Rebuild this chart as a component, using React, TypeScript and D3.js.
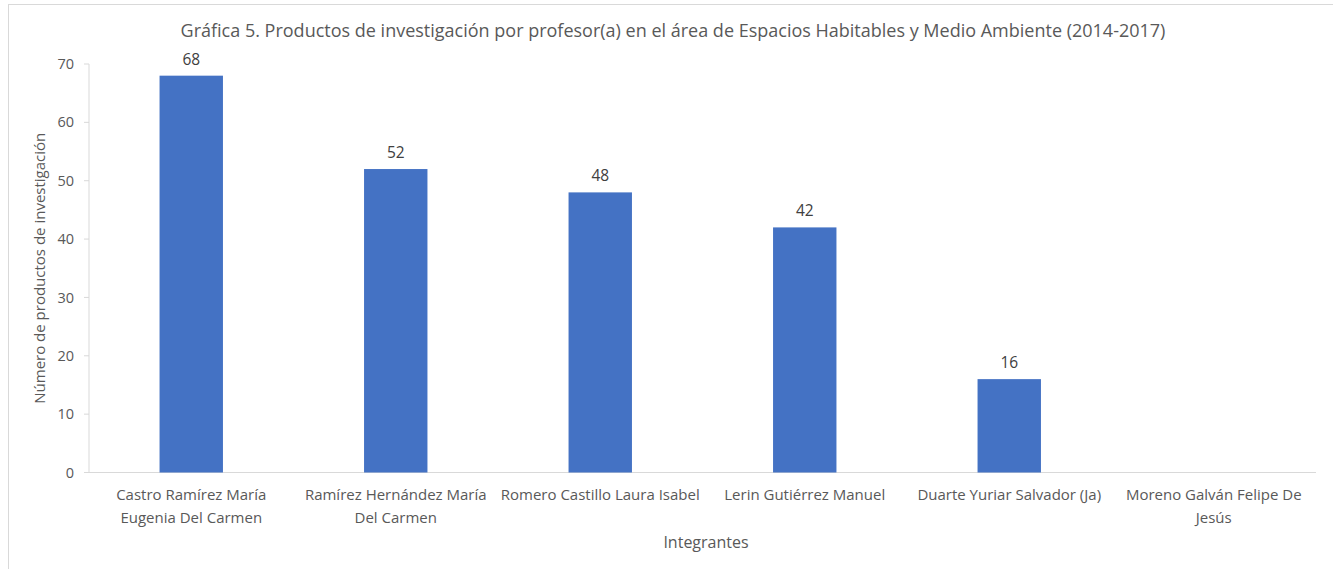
import React from "react";
import * as d3 from "d3";

const categories = [
  "Castro Ramírez María\nEugenia Del Carmen",
  "Ramírez Hernández María\nDel Carmen",
  "Romero Castillo Laura Isabel",
  "Lerin Gutiérrez Manuel",
  "Duarte Yuriar Salvador (Ja)",
  "Moreno Galván Felipe De\nJesús",
];
const values: (number | null)[] = [68, 52, 48, 42, 16, null];
const yTicks = [0, 10, 20, 30, 40, 50, 60, 70];
const title =
  "Gráfica 5. Productos de investigación por profesor(a) en el área de Espacios Habitables y Medio Ambiente (2014-2017)";
const xTitle = "Integrantes";
const yTitle = "Número de productos de investigación";

const W = 1333;
const H = 569;
const FONT = "'Open Sans', 'Noto Sans', sans-serif";
const TXT = "#595959";

export default function App() {
  const left = 89;
  const right = 1316;
  const top = 64;
  const bottom = 472.5;
  const x = d3
    .scaleBand<number>()
    .domain(d3.range(categories.length))
    .range([left, right])
    .paddingInner(0.69)
    .paddingOuter(0.345);
  const xc = d3.scaleBand<number>().domain(d3.range(categories.length)).range([left, right]);
  const y = d3.scaleLinear().domain([0, 70]).range([bottom, top]);

  return (
    <svg
      width={W}
      height={H}
      style={{ position: "absolute", left: 0, top: 0, background: "#fff" }}
      fontFamily={FONT}
    >
      <rect x={8.5} y={4.5} width={W - 8} height={H} fill="#fff" stroke="#d9d9d9" />
      <text x={673} y={37} textAnchor="middle" fontSize={18} fill={TXT}>
        {title}
      </text>
      <line x1={left} x2={left} y1={top} y2={bottom} stroke="#d9d9d9" />
      {yTicks.map((t) => (
        <g key={t}>
          <line x1={left - 5} x2={left} y1={y(t)} y2={y(t)} stroke="#d9d9d9" />
          <text x={left - 15} y={y(t)} dy="0.35em" textAnchor="end" fontSize={14.5} fill={TXT}>
            {t}
          </text>
        </g>
      ))}
      <line x1={left} x2={right} y1={bottom} y2={bottom} stroke="#d9d9d9" />
      {values.map((v, i) =>
        v == null ? null : (
          <g key={i}>
            <rect
              x={x(i)!}
              y={y(v)}
              width={x.bandwidth()}
              height={bottom - y(v)}
              fill="#4472c4"
            />
            <text
              x={x(i)! + x.bandwidth() / 2}
              y={y(v) - 11}
              textAnchor="middle"
              fontSize={15.5}
              fill="#404040"
            >
              {v}
            </text>
          </g>
        )
      )}
      {categories.map((c, i) => (
        <text
          key={i}
          x={xc(i)! + xc.bandwidth() / 2}
          y={500}
          textAnchor="middle"
          fontSize={15}
          fill={TXT}
        >
          {c.split("\n").map((ln, j) => (
            <tspan key={j} x={xc(i)! + xc.bandwidth() / 2} dy={j === 0 ? 0 : 23}>
              {ln}
            </tspan>
          ))}
        </text>
      ))}
      <text x={706} y={548} textAnchor="middle" fontSize={16} fill={TXT}>
        {xTitle}
      </text>
      <text
        transform={`translate(45, ${(top + bottom) / 2}) rotate(-90)`}
        textAnchor="middle"
        fontSize={15}
        fill={TXT}
      >
        {yTitle}
      </text>
    </svg>
  );
}
